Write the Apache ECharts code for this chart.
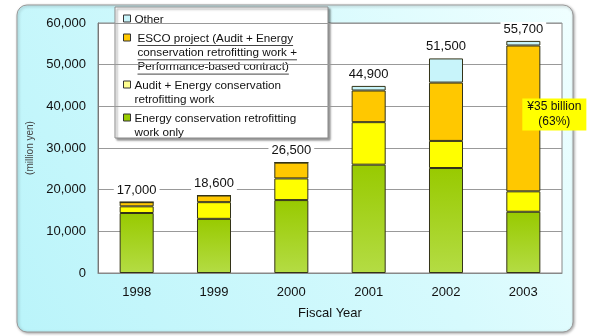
<!DOCTYPE html>
<html><head><meta charset="utf-8">
<script src="https://cdn.jsdelivr.net/npm/echarts@6/dist/echarts.min.js"></script>
<style>html,body{margin:0;padding:0;background:#fff}#c{width:600px;height:336px}</style>
</head><body><div id="c"></div>
<script>
var categories = ['1998', '1999', '2000', '2001', '2002', '2003'];
var greenOnly = [14400, 13000, 17500, 26000, 25200, 14700];
var auditRetro = [1600, 4000, 5200, 10200, 6500, 4900];
var esco = [1000, 1600, 3800, 7600, 14000, 35000];
var other = [0, 0, 0, 1100, 5800, 1100];
var totals = [17000, 18600, 26500, 44900, 51500, 55700];
var yTicks = [0, 10000, 20000, 30000, 40000, 50000, 60000];
var legendLines = [
  ['Other'],
  ['ESCO project (Audit + Energy', 'conservation retrofitting work +', 'Performance-based contract)'],
  ['Audit + Energy conservation', 'retrofitting work'],
  ['Energy conservation retrofitting', 'work only']
];
var annotation = '¥35 billion\n(63%)';

var FONT = "'Liberation Sans', Arial, sans-serif";
var colors = {
  other: '#c8f4fa',
  esco: '#ffc800',
  audit: '#ffff00',
  green: new echarts.graphic.LinearGradient(0, 0, 0, 1, [
    {offset: 0, color: '#98ca00'}, {offset: 1, color: '#b4dc44'}])
};
var legendColors = [colors.other, colors.esco, '#ffff90', '#99cc00'];

var chart = echarts.init(document.getElementById('c'));

var LFONT = '11.7px ' + FONT;
var mctx = document.createElement('canvas').getContext('2d');
mctx.font = LFONT;

var graphics = [];
graphics.push({
  type: 'rect', z: -10, silent: true,
  shape: {x: 17, y: 5, width: 556, height: 327, r: 10},
  style: {
    fill: new echarts.graphic.LinearGradient(0, 1, 1, 0, [
      {offset: 0, color: '#baf4fa'}, {offset: 0.6, color: '#d6fafd'}, {offset: 1, color: '#f0ffff'}]),
    stroke: '#9a9a9a', lineWidth: 1,
    shadowBlur: 3, shadowColor: 'rgba(0,0,0,0.35)', shadowOffsetX: 1, shadowOffsetY: 1
  }
});
var lg = [];
lg.push({
  type: 'rect', shape: {x: 115, y: 7, width: 213, height: 131},
  style: {fill: '#fff', stroke: '#8a8a8a', lineWidth: 1,
    shadowBlur: 2, shadowColor: 'rgba(0,0,0,0.4)', shadowOffsetX: 2, shadowOffsetY: 2}
});
var lineH = 14.3;
var startY = [19.5, 38.5, 85.5, 118.5];
legendLines.forEach(function (lines, i) {
  var y0 = startY[i];
  lg.push({
    type: 'rect', shape: {x: 123.5, y: y0 - 4.5, width: 7, height: 7},
    style: {fill: legendColors[i], stroke: '#333', lineWidth: 1}
  });
  var tx = (i === 1) ? 137.5 : 134.5;
  lines.forEach(function (t, j) {
    var y = y0 + j * lineH;
    lg.push({
      type: 'text', style: {x: tx, y: y, text: t, font: LFONT, fill: '#111',
        verticalAlign: 'middle', align: 'left'}
    });
    if (i === 1) {
      var w = mctx.measureText(t).width;
      lg.push({type: 'line', shape: {x1: tx, y1: y + 7, x2: tx + w, y2: y + 7},
        style: {stroke: '#444', lineWidth: 1}});
    }
  });
});
graphics.push({type: 'group', z: 100, children: lg});

function stackSeries(name, data, color, extra) {
  var s = {
    name: name, type: 'bar', stack: 'all', data: data, barWidth: '44%',
    itemStyle: {color: color, borderColor: '#333318', borderWidth: 1}
  };
  for (var k in extra) s[k] = extra[k];
  return s;
}

var escoData = esco.map(function (v, i) {
  if (i === 5) {
    return {value: v, label: {show: true, position: 'inside', offset: [31, -4],
      formatter: annotation, backgroundColor: '#ffff00', padding: [1, 5],
      color: '#111', fontSize: 12, lineHeight: 15, fontFamily: FONT, align: 'center'}};
  }
  return v;
});

chart.setOption({
  animation: false,
  textStyle: {fontFamily: FONT},
  graphic: graphics,
  grid: {left: 98, right: 38, top: 23, bottom: 63, show: true, backgroundColor: '#fff',
    borderColor: '#888', borderWidth: 1},
  xAxis: {
    type: 'category', data: categories,
    name: 'Fiscal Year', nameLocation: 'middle', nameGap: 34,
    nameTextStyle: {fontSize: 13, color: '#111', fontFamily: FONT},
    axisLine: {lineStyle: {color: '#888'}},
    axisTick: {inside: true, length: 3, lineStyle: {color: '#888'}},
    axisLabel: {fontSize: 13, color: '#111', margin: 13}
  },
  yAxis: {
    type: 'value', min: yTicks[0], max: yTicks[yTicks.length - 1], interval: 10000,
    name: '(million yen)', nameLocation: 'middle', nameGap: 57, nameRotate: 90,
    nameTextStyle: {fontSize: 10, color: '#444', fontFamily: FONT},
    axisLine: {show: true, lineStyle: {color: '#777'}},
    axisTick: {show: false},
    splitLine: {lineStyle: {color: '#999'}},
    axisLabel: {fontSize: 13, color: '#111', margin: 12,
      formatter: function (v) { return v.toLocaleString('en-US'); }}
  },
  series: [
    stackSeries('Energy conservation retrofitting work only', greenOnly, colors.green, {}),
    stackSeries('Audit + Energy conservation retrofitting work', auditRetro, colors.audit, {}),
    stackSeries('ESCO project', escoData, colors.esco, {}),
    stackSeries('Other', other, colors.other, {
      label: {show: true, position: 'top', distance: 4, color: '#111', fontSize: 13,
        backgroundColor: '#fff', padding: [1, 3],
        formatter: function (p) { return totals[p.dataIndex].toLocaleString('en-US'); }}
    })
  ]
});
</script></body></html>
